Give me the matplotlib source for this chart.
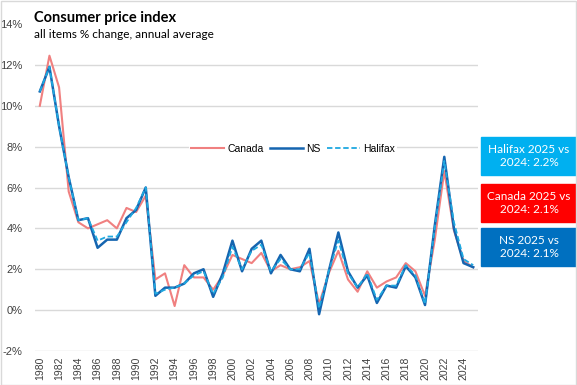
import numpy as np
import matplotlib.pyplot as plt
from matplotlib.patches import Rectangle

years = list(range(1980, 2026))

canada = [10.0, 12.45, 10.9, 5.8, 4.3, 4.0, 4.2, 4.4, 4.0, 5.0,
          4.8, 5.6, 1.5, 1.8, 0.2, 2.2, 1.6, 1.6, 1.0, 1.7,
          2.7, 2.5, 2.3, 2.8, 1.9, 2.2, 2.0, 2.1, 2.4, 0.3,
          1.8, 2.9, 1.5, 0.9, 1.9, 1.1, 1.4, 1.6, 2.3, 1.9,
          0.7, 3.4, 6.8, 3.9, 2.4, 2.1]
ns = [10.7, 11.9, 9.0, 6.5, 4.4, 4.5, 3.05, 3.45, 3.45, 4.5,
      4.9, 6.0, 0.7, 1.1, 1.1, 1.3, 1.8, 2.0, 0.65, 1.8,
      3.4, 1.9, 3.0, 3.4, 1.8, 2.7, 2.0, 1.9, 3.0, -0.2,
      1.9, 3.8, 1.9, 1.1, 1.7, 0.35, 1.2, 1.1, 2.15, 1.6,
      0.25, 4.1, 7.5, 4.0, 2.3, 2.1]
halifax = [10.7, 11.9, 9.0, 6.5, 4.4, 4.5, 3.4, 3.6, 3.6, 4.3,
           5.0, 6.0, 0.8, 1.0, 1.1, 1.3, 1.7, 1.9, 0.8, 1.6,
           3.1, 2.0, 2.9, 3.2, 1.9, 2.5, 2.0, 2.0, 2.8, 0.1,
           1.9, 3.4, 1.8, 1.1, 1.8, 0.5, 1.2, 1.2, 2.2, 1.7,
           0.3, 4.0, 7.3, 4.3, 2.5, 2.2]

boxes = [("Halifax 2025 vs\n2024: 2.2%", "#00B0F0"),
         ("Canada 2025 vs\n2024: 2.1%", "#FF0000"),
         ("NS 2025 vs\n2024: 2.1%", "#0070C0")]

fig = plt.figure(figsize=(5.77, 3.85), dpi=100)
ax = fig.add_axes([35/577, 1-351/385, 443/577, 327/385])

x = np.arange(len(years))
ax.plot(x, canada, color="#F08080", lw=1.5, label="Canada")
ax.plot(x, ns, color="#1565B0", lw=1.8, label="NS")
ax.plot(x, halifax, color="#1FA8E0", lw=1.3, ls=(0, (3, 1.5)), label="Halifax")

ax.set_xlim(-0.5, len(years) - 0.5)
ax.set_ylim(-2, 14)
ax.set_yticks(range(-2, 15, 2))
ax.set_yticklabels([f"{v}%" for v in range(-2, 15, 2)], fontsize=8,
                   family="Liberation Sans", color="#404040")
ax.set_xticks(x[::2])
ax.set_xticklabels([str(y) for y in years[::2]], rotation=90, fontsize=7.5,
                   family="Liberation Sans", color="#404040")
ax.tick_params(axis="y", length=0, pad=9)
ax.tick_params(axis="x", length=0, pad=4)
ax.grid(axis="y", color="#D9D9D9", lw=1)
ax.yaxis.get_gridlines()[-1].set_visible(False)
ax.set_axisbelow(True)
for s in ax.spines.values():
    s.set_visible(False)

leg = ax.legend(ncol=3, loc="center", bbox_to_anchor=(0.582, 0.618),
                frameon=True, fancybox=False, edgecolor="none", framealpha=1,
                prop={"family": "Liberation Sans", "size": 7.5},
                handlelength=3.2, handletextpad=0.3, columnspacing=0.6,
                borderpad=0.2)

fig.text(34/577, 1-18/385, "Consumer price index", fontsize=10.5,
         fontweight="bold", family="Lato", va="center")
fig.text(34/577, 1-35/385, "all items % change, annual average", fontsize=8.5,
         family="Lato", va="center")

tops = [137, 184, 228]
for (txt, col), t in zip(boxes, tops):
    fig.patches.append(Rectangle((481/577, 1-(t+38)/385), 96/577, 38/385,
                                 transform=fig.transFigure, color=col))
    fig.text(529/577, 1-(t+19)/385, txt, color="white", fontsize=8.5,
             family="Lato", ha="center", va="center", linespacing=1.3)

fig.patches.append(Rectangle((0.5/577, 0.5/385), 575.5/577, 383.5/385,
                             transform=fig.transFigure, fill=False,
                             edgecolor="#D9D9D9", lw=1))

fig.savefig("out.png", dpi=100)
